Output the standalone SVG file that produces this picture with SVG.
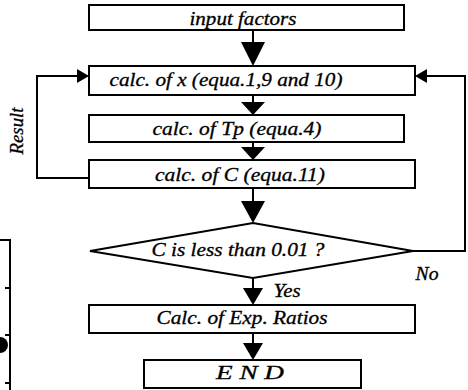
<svg xmlns="http://www.w3.org/2000/svg" width="468" height="390" viewBox="0 0 468 390">
<defs>
<style>
.box{fill:#fff;stroke:#000;stroke-width:2}
text{font-style:italic;font-size:18px;fill:#000;text-anchor:middle;stroke:#000;stroke-width:0.3}
.c{fill:none;stroke:#000;stroke-width:2}
.ad{fill:#000}
</style>
</defs>
<rect width="468" height="390" fill="#fff"/>
<g font-family="Liberation Serif, Times New Roman, DejaVu Serif, serif">
<g id="connectors">
<line class="c" x1="253" y1="30" x2="253" y2="45"/>
<path class="ad" d="M241,42 L265,42 L253,66 Z"/>
<line class="c" x1="253" y1="95" x2="253" y2="105"/>
<path class="ad" d="M241,102 L265,102 L253,115 Z"/>
<line class="c" x1="253" y1="142" x2="253" y2="150"/>
<path class="ad" d="M241,147 L265,147 L253,160 Z"/>
<line class="c" x1="253" y1="188" x2="253" y2="205"/>
<path class="ad" d="M241,201 L265,201 L253,223 Z"/>
<line class="c" x1="253" y1="278" x2="253" y2="290"/>
<path class="ad" d="M243,288 L263,288 L253,305 Z"/>
<line class="c" x1="253" y1="333" x2="253" y2="345"/>
<path class="ad" d="M243,343 L263,343 L253,360 Z"/>
<polyline class="c" points="89,178 37,178 37,76 78,76"/>
<path class="ad" d="M77,69 L89,76 L77,83 Z"/>
<polyline class="c" points="413,251 465,251 465,76 426,76"/>
<path class="ad" d="M427,69 L415,76 L427,83 Z"/>
<text x="23" y="131" transform="rotate(-90 23 131)" textLength="47" lengthAdjust="spacingAndGlyphs">Result</text>
<text x="427" y="280" textLength="23" lengthAdjust="spacingAndGlyphs">No</text>
<text x="287" y="297" textLength="27" lengthAdjust="spacingAndGlyphs">Yes</text>
</g>
<g id="input"><rect class="box" x="89" y="5" width="315" height="25"/><text x="243" y="25" textLength="107" lengthAdjust="spacingAndGlyphs">input factors</text></g>
<g id="calcx"><rect class="box" x="89" y="66" width="326" height="29"/><text x="226" y="86" textLength="233" lengthAdjust="spacingAndGlyphs">calc. of x (equa.1,9 and 10)</text></g>
<g id="calctp"><rect class="box" x="89" y="115" width="315" height="27"/><text x="237" y="135" textLength="169" lengthAdjust="spacingAndGlyphs">calc. of Tp (equa.4)</text></g>
<g id="calcc"><rect class="box" x="89" y="160" width="326" height="28"/><text x="240" y="181" textLength="170" lengthAdjust="spacingAndGlyphs">calc. of C (equa.11)</text></g>
<g id="decision"><path class="box" d="M90,251 L253,223 L413,251 L253,278 Z"/><text x="238" y="256" textLength="173" lengthAdjust="spacingAndGlyphs">C is less than 0.01 ?</text></g>
<g id="ratios"><rect class="box" x="89" y="305" width="326" height="28"/><text x="242" y="324" textLength="171" lengthAdjust="spacingAndGlyphs">Calc. of Exp. Ratios</text></g>
<g id="end"><rect class="box" x="144" y="360" width="217" height="28"/><text x="250" y="379" font-size="20" textLength="68" lengthAdjust="spacingAndGlyphs">E N D</text></g>
</g>
<g id="edge">
<polyline class="c" points="0,240 10,240 10,390"/>
<line class="c" x1="5" y1="288" x2="10" y2="288"/>
<line class="c" x1="5" y1="335" x2="10" y2="335"/>
<line class="c" x1="5" y1="383" x2="10" y2="383"/>
<circle cx="0" cy="345" r="8" fill="#000"/>
</g>
</svg>
